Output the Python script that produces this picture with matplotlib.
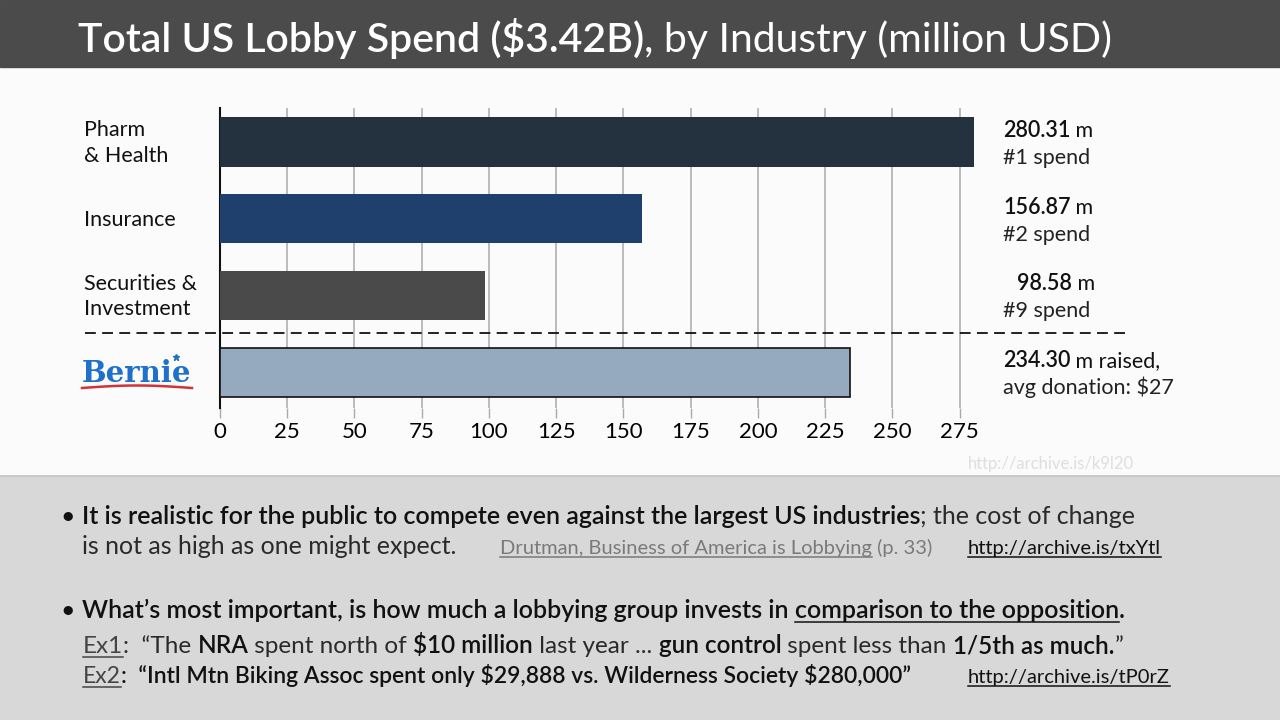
import matplotlib
matplotlib.use('Agg')
import matplotlib.pyplot as plt
from matplotlib.patches import Rectangle
from matplotlib.lines import Line2D
import numpy as np

# data
labels = ['Pharm\n& Health', 'Insurance', 'Securities &\nInvestment', '']
values = [280.31, 156.87, 98.58, 234.30]
value_txt = ['280.31', '156.87', '98.58', '234.30']
value_unit = [' m', ' m', ' m', ' m raised,']
second_line = ['#1 spend', '#2 spend', '#9 spend', 'avg donation: \\$27']
colors = ['#243240', '#1f406c', '#4a4a4a', '#95aabf']
ticks = np.arange(0, 276, 25)

W, H = 1280, 720
FONT = 'Lato'
plt.rcParams['font.family'] = [FONT, 'DejaVu Sans']

fig = plt.figure(figsize=(12.8, 7.2), dpi=100)
fig.patch.set_facecolor('#fbfbfb')

def fx(px):
    return np.asarray(px) / W

def fy(py):
    return 1 - np.asarray(py) / H

# backgrounds
fig.patches.append(Rectangle((0, fy(67)), 1, 67 / H, transform=fig.transFigure,
                             color='#4b4b4b', zorder=0))
fig.patches.append(Rectangle((0, 0), 1, fy(476), transform=fig.transFigure,
                             color='#d9d8d8', zorder=0))
fig.lines.append(Line2D([0, 1], [fy(476), fy(476)], transform=fig.transFigure,
                        color='#c4c4c4', lw=1.2))

# chart
ax_l, ax_r, ax_t, ax_b = 220, 1125, 108, 408
ax = fig.add_axes([fx(ax_l), fy(ax_b), (ax_r - ax_l) / W, (ax_b - ax_t) / H])
ax.set_facecolor('none')
px_per_unit = (959.6 - 220) / 275
ax.set_xlim(0, (ax_r - ax_l) / px_per_unit)
step = 76.7
ax.set_ylim((ax_b - 142) / step, (ax_t - 142) / step)
y = np.arange(len(values))
ax.barh(y, values, height=0.64, color=colors, zorder=3,
        edgecolor=['none', 'none', 'none', '#111111'], linewidth=1.2)
ax.set_xticks(ticks)
ax.set_xticklabels([str(t) for t in ticks], fontsize=16)
ax.tick_params(axis='x', length=7, width=1, color='#aaaaaa', pad=3)
ax.tick_params(axis='y', left=False, labelleft=False)
ax.grid(axis='x', color='#b0b0b0', lw=1.2, zorder=1)
for s in ['top', 'right', 'bottom']:
    ax.spines[s].set_visible(False)
ax.spines['left'].set_color('#111111')
ax.spines['left'].set_linewidth(1.5)

# separator
fig.lines.append(Line2D([fx(85), fx(1125)], [fy(333), fy(333)], transform=fig.transFigure,
                        color='#111111', lw=1.3, dashes=(6, 3.5)))

fig.canvas.draw()
renderer = fig.canvas.get_renderer()

def runs(x, ypix, parts, size, default_color='#111111'):
    # parts: (text, weight, color, underline)
    cx = x
    for text, weight, color, ul in parts:
        t = fig.text(fx(cx), fy(ypix), text, fontsize=size, fontweight=weight,
                     color=color or default_color, va='baseline', ha='left')
        bb = t.get_window_extent(renderer)
        if ul:
            yy = fy(ypix + size * 0.22)
            fig.lines.append(Line2D([fx(cx), fx(cx + bb.width)], [yy, yy],
                                    transform=fig.transFigure, color=color or default_color, lw=1.1))
        cx += bb.width
    return cx

# title
runs(78, 52, [('Total US Lobby Spend (\\$3.42B)', 'semibold', 'white', False),
              (', by Industry (million USD)', 'normal', 'white', False)], 29.5)

# category labels
for i, lab in enumerate(labels):
    if lab:
        fig.text(fx(84), fy(143 + step * i), lab, fontsize=15.5, va='center', ha='left',
                 color='#111111', linespacing=1.35)

# bernie logo
fig.text(fx(136), fy(382), 'Bernie', fontsize=21, fontweight='bold', family='DejaVu Serif',
         color='#1f70c8', ha='center', va='baseline')
xs = np.linspace(82, 192, 40)
ys = 388 - 2.5 * np.sin(np.linspace(0, np.pi, 40))
fig.lines.append(Line2D(fx(xs), fy(ys), transform=fig.transFigure, color='#d3313a', lw=1.8))
fig.lines.append(Line2D([fx(176)], [fy(357)], transform=fig.transFigure, marker='*',
                        color='#1f70c8', ms=5, lw=0))

# value annotations
for i in range(len(values)):
    yc = 142 + step * i
    x0 = 1003 if i != 2 else 1017
    runs(x0, yc - 5, [(value_txt[i], 'semibold', '#111111', False),
                      (value_unit[i], 'normal', '#111111', False)], 15.5)
    fig.text(fx(1003), fy(yc + 22), second_line[i], fontsize=15.5, color='#222222',
             va='baseline', ha='left')

fig.text(fx(968), fy(469), 'http://archive.is/k9l20', fontsize=12, color='#dedede',
         va='baseline', ha='left')

# bullets
fs = 18
lt = '#2a2a2a'
fig.text(fx(60), fy(524), '•', fontsize=fs, color='#111111', va='baseline')
runs(82, 524, [('It is realistic for the public to compete even against the largest US industries', 'semibold', '#111111', False),
               ('; the cost of change', 'normal', lt, False)], fs)
runs(82, 554, [('is not as high as one might expect.', 'normal', lt, False)], fs)
runs(500, 554, [('Drutman, Business of America is Lobbying', 'normal', '#7a7a7a', True),
                (' (p. 33)', 'normal', '#7a7a7a', False)], 14.5)
runs(968, 554, [('http://archive.is/txYtl', 'normal', '#111111', True)], 14.5)

fig.text(fx(60), fy(618), '•', fontsize=fs, color='#111111', va='baseline')
runs(82, 618, [('What\u2019s most important, is how much a lobbying group invests in ', 'semibold', '#111111', False),
               ('comparison to the opposition', 'semibold', '#111111', True),
               ('.', 'semibold', '#111111', False)], fs)
runs(83, 653, [('Ex1', 'normal', '#444444', True),
               (':  \u201cThe ', 'normal', lt, False),
               ('NRA', 'semibold', '#111111', False),
               (' spent north of ', 'normal', lt, False),
               ('\\$10 million', 'semibold', '#111111', False),
               (' last year ... ', 'normal', lt, False),
               ('gun control', 'semibold', '#111111', False),
               (' spent less than ', 'normal', lt, False),
               ('1/5th as much.', 'semibold', '#111111', False),
               ('\u201d', 'normal', lt, False)], 17.5)
runs(83, 683, [('Ex2', 'normal', '#444444', True),
               (':  \u201cIntl Mtn Biking Assoc spent only \\$29,888 vs. Wilderness Society \\$280,000\u201d', 'semibold', '#111111', False)], 16.5)
runs(968, 683, [('http://archive.is/tP0rZ', 'normal', '#111111', True)], 14.5)

fig.savefig('out.png', dpi=100, facecolor=fig.get_facecolor())
